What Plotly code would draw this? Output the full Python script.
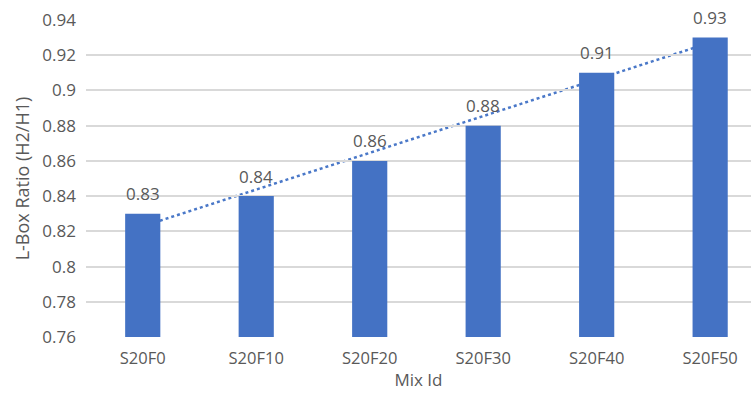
import numpy as np
import plotly.graph_objects as go

mix_ids = ["S20F0", "S20F10", "S20F20", "S20F30", "S20F40", "S20F50"]
lbox_ratio = [0.83, 0.84, 0.86, 0.88, 0.91, 0.93]
y_ticks = [0.76, 0.78, 0.80, 0.82, 0.84, 0.86, 0.88, 0.90, 0.92, 0.94]
y_tick_text = ["0.76", "0.78", "0.8", "0.82", "0.84", "0.86", "0.88", "0.9", "0.92", "0.94"]

BAR_BLUE = "#4472C4"
TEXT_GREY = "#595959"
FONT = "Open Sans, Noto Sans, sans-serif"

x_idx = np.arange(len(mix_ids))
slope, intercept = np.polyfit(x_idx, lbox_ratio, 1)

fig = go.Figure()
fig.add_trace(go.Bar(
    x=x_idx,
    y=lbox_ratio,
    base=0,
    width=0.31,
    marker=dict(color=BAR_BLUE, line=dict(width=0)),
    showlegend=False,
    hoverinfo="x+y",
))

# Value labels above each bar
for xi, v in zip(x_idx, lbox_ratio):
    fig.add_annotation(
        x=xi, y=v, xref="x", yref="y",
        text=f"{v:.2f}", showarrow=False,
        yanchor="middle", yshift=20,
        font=dict(size=17, color=TEXT_GREY, family=FONT),
    )

# Linear trendline, drawn beneath the bars
fig.add_shape(
    type="line", xref="x", yref="y", layer="below",
    x0=x_idx[0], y0=intercept + slope * x_idx[0],
    x1=x_idx[-1], y1=intercept + slope * x_idx[-1],
    line=dict(color="#4A78C8", width=2.5, dash="dot"),
)

fig.update_layout(
    width=751, height=393,
    margin=dict(l=86, r=0, t=20, b=56),
    paper_bgcolor="white", plot_bgcolor="white",
    font=dict(family=FONT, color=TEXT_GREY, size=17),
    xaxis=dict(
        tickmode="array", tickvals=list(x_idx), ticktext=mix_ids,
        range=[-0.5, 5.36],
        showgrid=False, showline=False, zeroline=False,
        ticks="", ticklabelstandoff=9,
        tickfont=dict(size=16.5, color=TEXT_GREY),
        title=dict(text="Mix Id", font=dict(size=17, color=TEXT_GREY), standoff=4),
    ),
    yaxis=dict(
        range=[0.76, 0.94],
        tickmode="array", tickvals=y_ticks, ticktext=y_tick_text,
        showgrid=True, gridcolor="#D9D9D9", gridwidth=1.5,
        zeroline=False, showline=False, ticks="",
        ticklabelstandoff=9,
        tickfont=dict(size=17, color=TEXT_GREY),
        title=dict(text="L-Box Ratio (H2/H1)", font=dict(size=18, color=TEXT_GREY), standoff=8),
    ),
)

fig.write_html("out.html")
